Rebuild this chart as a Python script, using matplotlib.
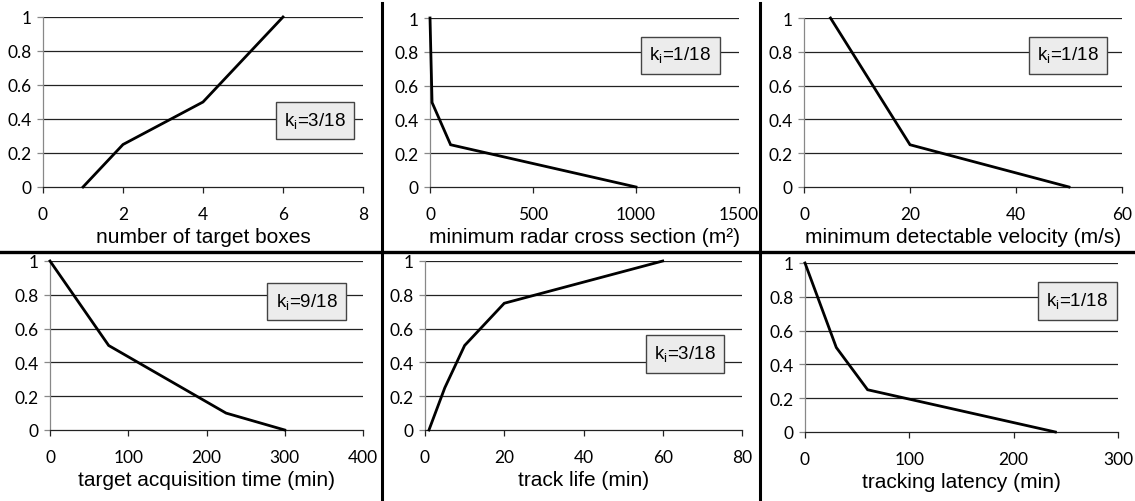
import matplotlib
matplotlib.use("Agg")
import matplotlib.pyplot as plt
from matplotlib.lines import Line2D

# ---- data ----
boxes_x = [1, 2, 4, 6]
boxes_y = [0, 0.25, 0.5, 1]
rcs_x = [1000, 100, 10, 5, 0]
rcs_y = [0, 0.25, 0.5, 0.75, 1]
vel_x = [5, 20, 50]
vel_y = [1, 0.25, 0]
acq_x = [0, 75, 225, 300]
acq_y = [1, 0.5, 0.1, 0]
life_x = [1, 5, 10, 20, 60]
life_y = [0, 0.25, 0.5, 0.75, 1]
lat_x = [0, 30, 60, 240]
lat_y = [1, 0.5, 0.25, 0]

xlabels = ["number of target boxes",
           "minimum radar cross section (m²)",
           "minimum detectable velocity (m/s)",
           "target acquisition time (min)",
           "track life (min)",
           "tracking latency (min)"]
xlims = [8, 1500, 60, 400, 80, 300]
xticks = [[0, 2, 4, 6, 8], [0, 500, 1000, 1500], [0, 20, 40, 60],
          [0, 100, 200, 300, 400], [0, 20, 40, 60, 80], [0, 100, 200, 300]]
k_labels = ["3/18", "1/18", "1/18", "9/18", "3/18", "1/18"]
yticks = [0, 0.2, 0.4, 0.6, 0.8, 1]
ytick_labels = ["0", "0.2", "0.4", "0.6", "0.8", "1"]

series = [(boxes_x, boxes_y), (rcs_x, rcs_y), (vel_x, vel_y),
          (acq_x, acq_y), (life_x, life_y), (lat_x, lat_y)]

# ---- layout (pixel boxes: left, right, top, bottom) ----
W, H = 1135, 502
boxes_px = [(43, 363, 18, 188), (430, 739, 19, 188), (804, 1122, 19, 188),
            (50, 363, 262, 431), (425, 742, 262, 431), (805, 1118, 264, 433)]
k_pos = [(0.85, 0.39), (0.81, 0.78), (0.83, 0.78),
         (0.82, 0.76), (0.82, 0.45), (0.87, 0.775)]

fig = plt.figure(figsize=(W / 100, H / 100), dpi=100)
fig.patch.set_facecolor("white")

tick_font = "Lato"
label_font = "Liberation Sans"

for i, ((l, r, t, b), (xs, ys)) in enumerate(zip(boxes_px, series)):
    ax = fig.add_axes([l / W, 1 - b / H, (r - l) / W, (b - t) / H])
    ax.plot(xs, ys, color="black", lw=2.0, solid_joinstyle="miter", clip_on=False, zorder=3)
    ax.set_xlim(0, xlims[i])
    ax.set_ylim(0, 1)
    ax.set_xticks(xticks[i])
    ax.set_xticklabels([str(v) for v in xticks[i]], fontfamily=tick_font, fontsize=12.5)
    ax.set_yticks(yticks)
    ax.set_yticklabels(ytick_labels, fontfamily=tick_font, fontsize=12.5)
    for yv in yticks[1:]:
        ax.axhline(yv, color="#222222", lw=0.9, zorder=1)
    for s in ["top", "right"]:
        ax.spines[s].set_visible(False)
    ax.spines["left"].set_color("#888888")
    ax.spines["bottom"].set_color("#222222")
    ax.spines["left"].set_linewidth(0.9)
    ax.spines["bottom"].set_linewidth(0.9)
    ax.tick_params(axis="x", direction="out", length=4, width=0.9, color="#222222", pad=10)
    ax.tick_params(axis="y", direction="out", length=4, width=0.9, color="#888888", pad=4)
    ax.set_xlabel(xlabels[i], fontfamily=label_font, fontsize=15, labelpad=3)
    ax.text(k_pos[i][0], k_pos[i][1], "k$_\\mathregular{i}$=" + k_labels[i],
            transform=ax.transAxes, ha="center", va="center",
            fontfamily=label_font, fontsize=13.5, zorder=5,
            bbox=dict(boxstyle="square,pad=0.45", facecolor="#ececec",
                      edgecolor="#444444", linewidth=1.0))

# divider lines
fig.add_artist(Line2D([0, 1], [1 - 253 / H, 1 - 253 / H], transform=fig.transFigure,
                      color="black", lw=2.4))
for xv in [382, 760]:
    fig.add_artist(Line2D([xv / W, xv / W], [0, 1 - 4 / H], transform=fig.transFigure,
                          color="black", lw=2.2))

fig.savefig("out.png", dpi=100, facecolor="white")
